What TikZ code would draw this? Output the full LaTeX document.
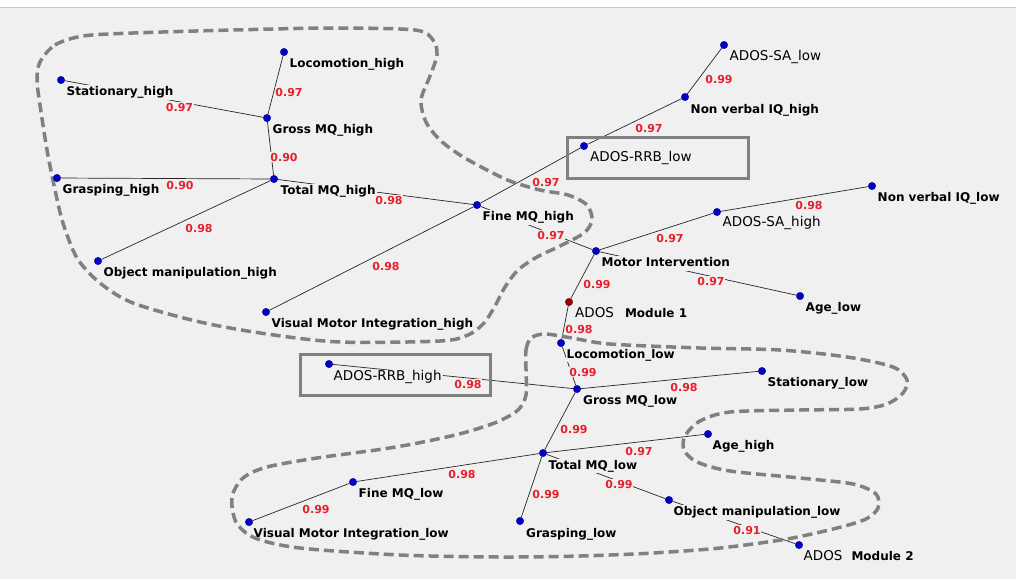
\documentclass[tikz,border=0pt]{standalone}
\usepackage{fontspec}
\setmainfont{DejaVu Sans}
\usetikzlibrary{calc}
\definecolor{bgc}{RGB}{240,240,240}
\definecolor{dotblue}{RGB}{0,0,200}
\definecolor{dotred}{RGB}{150,0,0}
\definecolor{wred}{RGB}{232,30,45}
\definecolor{contc}{RGB}{128,128,128}
\definecolor{topline}{RGB}{200,200,200}
\pgfdeclarelayer{bglayer}
\pgfdeclarelayer{edgelayer}
\pgfdeclarelayer{labellayer}
\pgfdeclarelayer{contlayer}
\pgfsetlayers{bglayer,edgelayer,labellayer,contlayer,main}
\begin{document}
\begin{tikzpicture}[x=1pt,y=-1pt,
  dot/.style={circle, fill=dotblue, draw=dotblue!70!black, line width=0.3pt, minimum size=7.5pt, inner sep=0pt},
  reddot/.style={dot, fill=dotred, draw=dotred!70!black},
  lbl/.style={anchor=base west, fill=bgc, inner sep=1pt, text height=9.5pt, text depth=3pt, font=\bfseries\fontsize{12}{14}\selectfont, text=black},
  albl/.style={lbl, font=\fontsize{13.5}{16}\selectfont},
  wt/.style={fill=bgc, inner sep=0.6pt, text height=8pt, text depth=0pt, text=wred, font=\bfseries\fontsize{11}{13}\selectfont},
  edge/.style={draw=black!85, line width=0.7pt},
  cont/.style={draw=contc, line width=3.5pt, dash pattern=on 10pt off 5pt},
  hbox/.style={draw=contc, line width=3pt}
]
\useasboundingbox (0,0) rectangle (1016,579);
\begin{pgfonlayer}{bglayer}
  \fill[white] (0,0) rectangle (1016,8);
  \fill[bgc] (0,8) rectangle (1016,579);
  \draw[topline, line width=1pt] (0,7.5) -- (1016,7.5);
\end{pgfonlayer}

% ---------- dots ----------
\node[dot] (sth) at (61,80) {};
\node[dot] (loh) at (284,52) {};
\node[dot] (gmh) at (267,118) {};
\node[dot] (tmh) at (274,179) {};
\node[dot] (grh) at (57,178) {};
\node[dot] (omh) at (98,261) {};
\node[dot] (vmh) at (266,312) {};
\node[dot] (fmh) at (477,205) {};
\node[dot] (rrbl) at (584,146) {};
\node[dot] (nvh) at (685,97) {};
\node[dot] (sal) at (724,45) {};
\node[dot] (mi) at (596,251) {};
\node[dot] (sah) at (717,212) {};
\node[dot] (nvl) at (872,186) {};
\node[dot] (agl) at (800,296) {};
\node[reddot] (ados1) at (569,302) {};
\node[dot] (lol) at (561,343) {};
\node[dot] (gml) at (577,389) {};
\node[dot] (rrbh) at (329,364) {};
\node[dot] (stl) at (762,371) {};
\node[dot] (tml) at (543,453) {};
\node[dot] (agh) at (708,434) {};
\node[dot] (fml) at (353,482) {};
\node[dot] (vml) at (249,522) {};
\node[dot] (grl) at (520,521) {};
\node[dot] (oml) at (669,500) {};
\node[dot] (ados2) at (799,545) {};

% ---------- edges ----------
\begin{pgfonlayer}{edgelayer}
  \draw[edge] (sth) -- (gmh);
  \draw[edge] (loh) -- (gmh);
  \draw[edge] (gmh) -- (tmh);
  \draw[edge] (grh) -- (tmh);
  \draw[edge] (omh) -- (tmh);
  \draw[edge] (tmh) -- (fmh);
  \draw[edge] (vmh) -- (fmh);
  \draw[edge] (fmh) -- (rrbl);
  \draw[edge] (rrbl) -- (nvh);
  \draw[edge] (nvh) -- (sal);
  \draw[edge] (fmh) -- (mi);
  \draw[edge] (mi) -- (sah);
  \draw[edge] (sah) -- (nvl);
  \draw[edge] (mi) -- (agl);
  \draw[edge] (mi) -- (ados1);
  \draw[edge] (ados1) -- (lol);
  \draw[edge] (lol) -- (gml);
  \draw[edge] (rrbh) -- (gml);
  \draw[edge] (gml) -- (stl);
  \draw[edge] (gml) -- (tml);
  \draw[edge] (tml) -- (agh);
  \draw[edge] (tml) -- (fml);
  \draw[edge] (fml) -- (vml);
  \draw[edge] (tml) -- (grl);
  \draw[edge] (tml) -- (oml);
  \draw[edge] (oml) -- (ados2);
\end{pgfonlayer}

% ---------- labels ----------
\begin{pgfonlayer}{labellayer}
  \node[lbl] (sthL) at ($(sth)+(4.5,15.5)$) {Stationary\_high};
  \node[lbl] (lohL) at ($(loh)+(4.5,15.5)$) {Locomotion\_high};
  \node[lbl] (gmhL) at ($(gmh)+(4.5,15.5)$) {Gross MQ\_high};
  \node[lbl] (tmhL) at ($(tmh)+(5.5,15.5)$) {Total MQ\_high};
  \node[lbl] (grhL) at ($(grh)+(4.5,15.5)$) {Grasping\_high};
  \node[lbl] (omhL) at ($(omh)+(4.5,15)$) {Object manipulation\_high};
  \node[lbl] (vmhL) at ($(vmh)+(4.5,15.5)$) {Visual Motor Integration\_high};
  \node[lbl] (fmhL) at ($(fmh)+(4.5,15.5)$) {Fine MQ\_high};
  \node[albl] (rrblL) at ($(rrbl)+(5,15)$) {ADOS-RRB\_low};
  \node[lbl] (nvhL) at ($(nvh)+(4.5,16)$) {Non verbal IQ\_high};
  \node[albl] (salL) at ($(sal)+(4.5,15)$) {ADOS-SA\_low};
  \node[lbl] (miL) at ($(mi)+(4.5,15.5)$) {Motor Intervention};
  \node[albl] (sahL) at ($(sah)+(4.5,14.5)$) {ADOS-SA\_high};
  \node[lbl] (nvlL) at ($(nvl)+(4.5,15.5)$) {Non verbal IQ\_low};
  \node[lbl] (aglL) at ($(agl)+(4.5,15.5)$) {Age\_low};
  \node[lbl] (ados1L) at ($(ados1)+(5,15)$) {{\mdseries\fontsize{13.5}{16}\selectfont ADOS}\hspace{11pt}Module 1};
  \node[lbl] (lolL) at ($(lol)+(4.5,15)$) {Locomotion\_low};
  \node[lbl] (gmlL) at ($(gml)+(5,15.5)$) {Gross MQ\_low};
  \node[albl] (rrbhL) at ($(rrbh)+(3.5,16)$) {ADOS-RRB\_high};
  \node[lbl] (stlL) at ($(stl)+(4.5,15.5)$) {Stationary\_low};
  \node[lbl] (tmlL) at ($(tml)+(4.5,16)$) {Total MQ\_low};
  \node[lbl] (aghL) at ($(agh)+(3.5,15.5)$) {Age\_high};
  \node[lbl] (fmlL) at ($(fml)+(4.5,15.5)$) {Fine MQ\_low};
  \node[lbl] (vmlL) at ($(vml)+(3.5,15.5)$) {Visual Motor Integration\_low};
  \node[lbl] (grlL) at ($(grl)+(5,16)$) {Grasping\_low};
  \node[lbl] (omlL) at ($(oml)+(3.5,15.5)$) {Object manipulation\_low};
  \node[lbl] (ados2L) at ($(ados2)+(3.5,15)$) {{\mdseries\fontsize{13.5}{16}\selectfont ADOS}\hspace{9pt}Module 2};

  % weights
  \node[wt] (w1) at (179.5,107) {0.97};
  \node[wt] (w2) at (289,92) {0.97};
  \node[wt] (w3) at (284,157) {0.90};
  \node[wt] (w4) at (180,185) {0.90};
  \node[wt] (w5) at (199,228) {0.98};
  \node[wt] (w6) at (389,200) {0.98};
  \node[wt] (w7) at (386,266) {0.98};
  \node[wt] (w8) at (546,182) {0.97};
  \node[wt] (w9) at (649,128) {0.97};
  \node[wt] (w10) at (719,79) {0.99};
  \node[wt] (w11) at (551,235) {0.97};
  \node[wt] (w12) at (670,238) {0.97};
  \node[wt] (w13) at (809,205) {0.98};
  \node[wt] (w14) at (711,281) {0.97};
  \node[wt] (w15) at (597,284) {0.99};
  \node[wt] (w16) at (579,329) {0.98};
  \node[wt] (w17) at (583,372) {0.99};
  \node[wt] (w18) at (468,384) {0.98};
  \node[wt] (w19) at (684,387) {0.98};
  \node[wt] (w20) at (574,429) {0.99};
  \node[wt] (w21) at (639,451) {0.97};
  \node[wt] (w22) at (462,474) {0.98};
  \node[wt] (w23) at (316,509) {0.99};
  \node[wt] (w24) at (546,494) {0.99};
  \node[wt] (w25) at (619,484) {0.99};
  \node[wt] (w26) at (747,530) {0.91};
\end{pgfonlayer}

% ---------- contours and boxes ----------
\begin{pgfonlayer}{contlayer}
  \draw[hbox] (567,137) rectangle (748,178);
  \draw[hbox] (300,354) rectangle (490,395);
  \draw[cont] plot[smooth cycle, tension=0.5] coordinates {
    (40,62) (55,45) (83,36) (133,33) (233,30) (333,28) (415,30) (433,40) (437,55)
    (430,76) (421,100) (426,122) (440,140) (460,155) (485,169) (510,181) (540,190)
    (568,195) (587,205) (592,220) (584,233) (560,246) (537,257) (518,270) (505,287)
    (495,306) (484,323) (468,335) (440,341) (340,342) (267,334) (200,322) (133,303)
    (100,283) (77,258) (63,223) (55,190) (47,150) (40,105) (37,80)};
  \draw[cont] plot[smooth cycle, tension=0.5] coordinates {
    (526,370) (526,350) (531,338) (545,334) (572,338) (610,344) (700,348) (780,350)
    (847,357) (893,367) (907,380) (903,393) (887,404) (860,409) (800,410) (730,412)
    (700,421) (685,436) (684,450) (697,462) (730,471) (800,478) (853,484) (876,494)
    (878,508) (866,519) (837,528) (787,539) (720,548) (653,553) (580,556) (500,557)
    (400,555) (300,548) (255,538) (236,522) (232,497) (243,478) (267,467) (317,458)
    (383,449) (423,442) (463,433) (497,422) (518,410) (526,395)};
\end{pgfonlayer}
\end{tikzpicture}
\end{document}
